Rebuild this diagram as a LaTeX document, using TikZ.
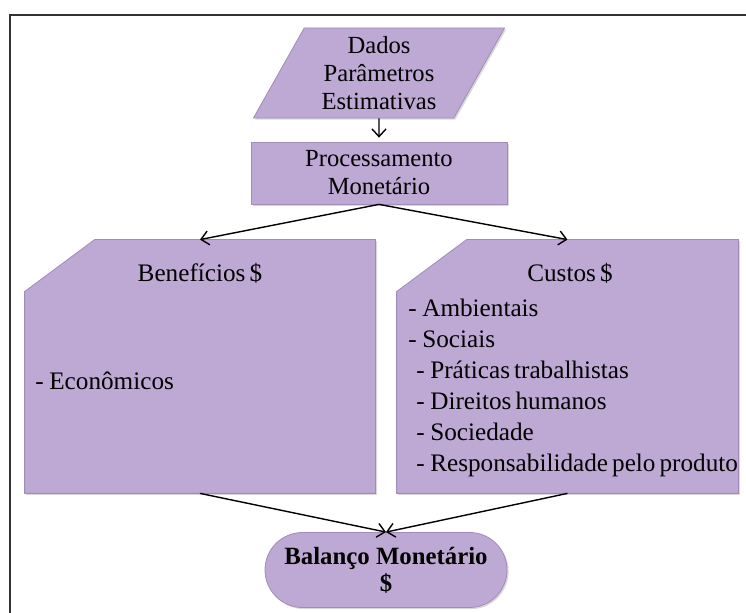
\documentclass[tikz,border=0pt]{standalone}
\usepackage{fontspec}
\setmainfont{Liberation Serif}
\newfontfamily\tnr{Liberation Serif}
\usetikzlibrary{positioning,arrows.meta,shapes.geometric,shapes.misc,shadows}
\definecolor{lilac}{HTML}{BDA9D3}
\definecolor{lilacedge}{HTML}{A08CB8}
\definecolor{frame}{HTML}{333333}
\newcommand\dash{-\hspace{0.22em}}
\tikzset{
  blk/.style={draw=lilacedge,line width=0.4pt,fill=lilac,inner sep=0pt,
    drop shadow={shadow xshift=0.8pt,shadow yshift=-0.8pt,opacity=0.3}},
  spot/.style={inner sep=0pt},
  txt/.style={font=\tnr\fontsize{12.3}{14}\selectfont,align=center,inner sep=0pt},
  item/.style={font=\tnr\fontsize{12.6}{14}\selectfont,inner sep=0pt,anchor=base west,
    execute at begin node={\spaceskip=0.16em\relax}},
  flow/.style={-{Straight Barb[length=3.8pt,width=7pt]},line width=0.7pt}}
\begin{document}
\begin{tikzpicture}[x=0.5pt,y=0.5pt]
  \useasboundingbox (0,-613) rectangle (746,0);
  % frame
  \draw[frame,line width=0.8pt] (746,-15) -- (10,-15) -- (10,-613);
  % top of the chart
  \node[blk,txt,trapezium,trapezium left angle=62,trapezium right angle=118,trapezium stretches=true,
    minimum width=126.5pt,minimum height=45pt] (dados) at (379,-73) {Dados\\Parâmetros\\Estimativas};
  \node[blk,minimum width=128pt,minimum height=31pt] (proc) at (379,-173) {};
  \node[txt] (proctxt) at (proc.center) {Processamento\\Monetário};
  % the two columns, cut at the top left
  \node[spot,minimum width=175pt,minimum height=126.5pt] (ben) at (200,-366.5) {};
  \node[spot,minimum width=170.5pt,minimum height=126.5pt] (cus) at (567.5,-366.5) {};
  \foreach \b in {ben,cus}{
    \draw[blk] (\b.south west) -- (\b.south east) -- (\b.north east)
      -- ([xshift=35pt]\b.north west) -- ([yshift=-26pt]\b.north west) -- cycle;}
  \node[txt,font=\tnr\fontsize{12.6}{14}\selectfont,anchor=base] (bentitle) at (200,-282) {Benefícios\,\$};
  \node[item] (econ) at (35,-390) {\dash Econômicos};
  \node[txt,font=\tnr\fontsize{12.6}{14}\selectfont,anchor=base] (custitle) at (570,-282) {Custos\,\$};
  \foreach \i/\x/\t in {0/408/{Ambientais},1/408/{Sociais},2/416/{Práticas trabalhistas},
    3/416/{Direitos humanos},4/416/{Sociedade},5/416/{Responsabilidade pelo produto}}{
    \node[item] (c\i) at (\x,-317-\i*31) {\dash\t};}
  % result
  \node[blk,rounded rectangle,minimum width=121pt,minimum height=37.5pt] (bal) at (386,-570) {};
  \node[txt,font=\tnr\fontsize{12.4}{13.5}\selectfont\bfseries] (baltxt) at (bal.center) {Balanço Monetário\\\$};
  \draw[flow,shorten >=2pt] (dados.south) -- (proc.north);
  \draw[flow] (proc.south) -- (ben.north);
  \draw[flow] (proc.south) -- (cus.north);
  \draw[flow] (ben.south) -- (bal.north);
  \draw[flow] (cus.south) -- (bal.north);
\end{tikzpicture}
\end{document}
